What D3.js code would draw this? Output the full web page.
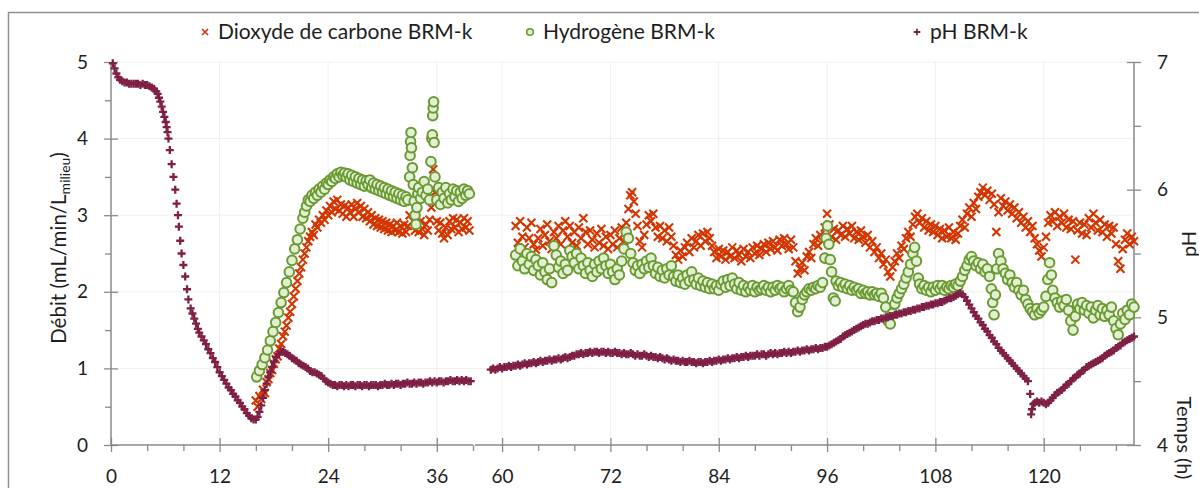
<!DOCTYPE html>
<html>
<head>
<meta charset="utf-8">
<script src="https://cdn.jsdelivr.net/npm/d3@7"></script>
<style>
  html, body { margin: 0; padding: 0; background: #fff; }
  svg { display: block; font-family: Lato, "Open Sans", sans-serif; }
</style>
</head>
<body>
<svg id="chart" width="1199" height="488"></svg>
<script>
// ---------- DATA (hours, value) ----------
const seriesNames = ["Dioxyde de carbone BRM-k", "Hydrogène BRM-k", "pH BRM-k"];
const xMajorTicks = [0, 12, 24, 36, 60, 72, 84, 96, 108, 120];
const xMinorTicks = [4, 8, 16, 20, 28, 32, 40, 64, 68, 76, 80, 88, 92, 100, 104, 112, 116, 124, 128];
const yLeftTicks = [0, 1, 2, 3, 4, 5];
const yLeftMinor = [0.5, 1.5, 2.5, 3.5, 4.5];
const yRightTicks = [4, 5, 6, 7];
const yRightMinor = [4.5, 5.5, 6.5];
const xSegments = [[0, 40], [57, 130]];

// CO2 flow (mL/min/L)
const co2 = [
[16.0,0.58],[16.2,0.50],[16.4,0.64],[16.6,0.60],[16.8,0.72],[17.0,0.68],[17.2,0.82],[17.4,0.86],[17.6,0.94],[17.8,0.98],
[18.0,1.06],[18.2,1.12],[18.4,1.16],[18.6,1.26],[18.8,1.32],[19.0,1.42],[19.2,1.48],[19.4,1.56],[19.6,1.66],[19.8,1.74],
[20.0,1.84],[20.2,1.94],[20.4,2.04],[20.6,2.14],[20.8,2.24],[21.0,2.32],[21.2,2.42],[21.4,2.50],[21.6,2.58],[21.8,2.66],
[22.0,2.72],[22.2,2.78],[22.4,2.74],[22.6,2.88],[22.8,2.84],[23.0,2.94],[23.2,2.90],[23.4,3.00],[23.6,2.94],[23.8,3.06],
[24.0,3.00],[24.2,3.12],[24.4,3.04],[24.6,3.18],[24.8,3.08],[25.0,3.20],[25.2,3.06],[25.4,3.14],[25.6,3.02],[25.8,3.12],
[26.0,2.98],[26.2,3.10],[26.4,3.04],[26.6,3.14],[26.8,2.98],[27.0,3.08],[27.2,3.16],[27.4,3.04],[27.6,3.12],[27.8,2.98],
[28.0,3.08],[28.2,2.96],[28.4,3.04],[28.6,2.92],[28.8,3.00],[29.0,2.88],[29.2,2.96],[29.4,2.86],[29.6,2.94],[29.8,2.84],
[30.0,2.92],[30.2,2.82],[30.4,2.90],[30.6,2.80],[30.8,2.88],[31.0,2.78],[31.2,2.86],[31.4,2.80],[31.6,2.90],[31.8,2.78],
[32.0,2.86],[32.2,2.76],[32.4,2.88],[32.6,2.78],[32.8,2.86],[33.0,3.00],[33.2,3.18],[33.4,2.92],[33.6,2.80],[33.8,2.90],
[34.0,2.78],[34.2,2.92],[34.4,2.82],[34.6,2.74],[34.8,2.88],[35.0,2.80],[35.2,2.94],[35.4,3.10],[35.6,3.60],[35.8,3.30],
[36.0,2.92],[36.2,2.80],[36.4,2.90],[36.6,2.76],[36.8,2.70],[37.0,2.84],[37.2,2.74],[37.4,2.92],[37.6,2.82],[37.8,2.96],
[38.0,2.84],[38.2,2.94],[38.4,2.78],[38.6,2.90],[38.8,2.82],[39.0,2.96],[39.2,2.84],[39.4,2.92],[39.6,2.80],
[61.50,2.86],[61.75,2.64],[62.00,2.92],[62.25,2.72],[62.50,2.58],[62.75,2.84],[63.00,2.70],[63.25,2.90],[63.50,2.62],[63.75,2.55],
[64.00,2.70],[64.25,2.82],[64.50,2.60],[64.75,2.74],[65.00,2.88],[65.25,2.66],[65.50,2.56],[65.75,2.78],[66.00,2.70],[66.25,2.86],
[66.50,2.62],[66.75,2.80],[67.00,2.92],[67.25,2.72],[67.50,2.86],[67.75,2.64],[68.00,2.78],[68.25,2.60],[68.50,2.84],[68.75,2.70],
[69.00,2.96],[69.25,2.78],[69.50,2.62],[69.75,2.80],[70.00,2.68],[70.25,2.58],[70.50,2.76],[70.75,2.64],[71.00,2.82],[71.25,2.60],
[71.50,2.72],[71.75,2.56],[72.00,2.74],[72.25,2.62],[72.50,2.80],[72.75,2.58],[73.00,2.70],[73.25,2.84],[73.50,2.66],[73.75,2.90],
[74.00,3.08],[74.20,3.26],[74.40,3.30],[74.60,3.18],[74.80,3.02],[75.00,2.86],[75.25,2.66],[75.50,2.58],[75.75,2.74],[76.00,2.88],
[76.25,3.00],[76.50,2.92],[76.75,3.02],[77.00,2.84],[77.25,2.72],[77.50,2.86],[77.75,2.70],[78.00,2.80],[78.25,2.66],[78.50,2.84],
[78.75,2.72],[79.00,2.60],[79.25,2.48],[79.50,2.42],[79.75,2.54],[80.00,2.46],[80.25,2.58],[80.50,2.64],[80.75,2.52],[81.00,2.70],
[81.25,2.58],[81.50,2.66],[81.75,2.74],[82.00,2.60],[82.25,2.76],[82.50,2.66],[82.75,2.78],[83.00,2.70],[83.25,2.60],[83.50,2.52],
[83.75,2.44],[84.00,2.56],[84.25,2.46],[84.50,2.54],[84.75,2.42],[85.00,2.52],[85.25,2.46],[85.50,2.58],[85.75,2.44],[86.00,2.54],
[86.25,2.48],[86.50,2.40],[86.75,2.56],[87.00,2.46],[87.25,2.52],[87.50,2.44],[87.75,2.58],[88.00,2.50],[88.25,2.60],[88.50,2.48],
[88.75,2.56],[89.00,2.62],[89.25,2.52],[89.50,2.64],[89.75,2.56],[90.00,2.66],[90.25,2.58],[90.50,2.54],[90.75,2.68],[91.00,2.60],
[91.25,2.70],[91.50,2.62],[91.75,2.56],[92.00,2.68],[92.25,2.58],[92.50,2.40],[92.75,2.24],[93.00,2.30],[93.25,2.38],[93.50,2.28],
[93.75,2.46],[94.00,2.52],[94.25,2.44],[94.50,2.62],[94.75,2.70],[95.00,2.60],[95.25,2.74],[95.50,2.66],[95.75,2.84],[96.00,3.02],
[96.25,2.88],[96.50,2.72],[96.75,2.82],[97.00,2.68],[97.25,2.80],[97.50,2.74],[97.75,2.86],[98.00,2.72],[98.25,2.82],[98.50,2.76],
[98.75,2.86],[99.00,2.70],[99.25,2.78],[99.50,2.68],[99.75,2.80],[100.00,2.72],[100.25,2.64],[100.50,2.74],[100.75,2.58],[101.00,2.66],
[101.25,2.52],[101.50,2.58],[101.75,2.44],[102.00,2.50],[102.25,2.36],[102.50,2.42],[102.75,2.26],[103.00,2.20],[103.25,2.32],[103.50,2.40],
[103.75,2.50],[104.00,2.44],[104.25,2.60],[104.50,2.56],[104.75,2.70],[105.00,2.78],[105.25,2.72],[105.50,2.88],[105.75,2.98],[106.00,3.02],
[106.25,2.90],[106.50,2.96],[106.75,2.84],[107.00,2.92],[107.25,2.80],[107.50,2.88],[107.75,2.78],[108.00,2.86],[108.25,2.74],[108.50,2.82],
[108.75,2.70],[109.00,2.80],[109.25,2.72],[109.50,2.84],[109.75,2.70],[110.00,2.78],[110.25,2.68],[110.50,2.76],[110.75,2.86],[111.00,2.94],
[111.25,2.84],[111.50,3.02],[111.75,3.10],[112.00,2.98],[112.25,3.16],[112.50,3.08],[112.75,3.24],[113.00,3.30],[113.25,3.36],[113.50,3.26],
[113.75,3.32],[114.00,3.20],[114.25,3.28],[114.50,3.14],[114.75,2.78],[115.00,3.04],[115.25,3.22],[115.50,3.12],[115.75,3.18],[116.00,3.06],
[116.25,3.14],[116.50,3.02],[116.75,3.10],[117.00,2.96],[117.25,3.04],[117.50,2.90],[117.75,2.98],[118.00,2.84],[118.25,2.92],[118.50,2.78],
[118.75,2.86],[119.00,2.70],[119.25,2.62],[119.50,2.54],[119.75,2.46],[120.00,2.58],[120.25,2.72],[120.50,2.90],[120.75,3.00],[121.00,2.92],
[121.25,3.04],[121.50,2.86],[121.75,2.98],[122.00,2.90],[122.25,3.02],[122.50,2.84],[122.75,2.94],[123.00,2.82],[123.25,2.92],[123.50,2.42],
[123.75,2.80],[124.00,2.90],[124.25,2.76],[124.50,2.88],[124.75,2.74],[125.00,2.96],[125.25,2.84],[125.50,3.02],[125.75,2.90],[126.00,2.80],
[126.25,2.94],[126.50,2.78],[126.75,2.88],[127.00,2.72],[127.25,2.86],[127.50,2.76],[127.75,2.84],[128.00,2.62],[128.25,2.40],[128.50,2.30],
[128.75,2.56],[129.00,2.68],[129.25,2.76],[129.50,2.62],[129.75,2.72],[130.00,2.66]
];

// H2 flow (mL/min/L)
const h2 = [
[16.1,0.89],[16.4,0.97],[16.7,1.05],[17.0,1.14],[17.3,1.24],[17.6,1.36],[17.9,1.48],[18.2,1.60],[18.5,1.73],[18.8,1.86],
[19.1,1.99],[19.4,2.12],[19.7,2.26],[20.0,2.41],[20.3,2.56],[20.6,2.68],[20.9,2.82],[21.2,2.96],[21.4,3.04],
[21.6,3.12],[21.8,3.20],[22.0,3.18],[22.2,3.26],[22.4,3.22],[22.6,3.30],[22.8,3.26],[23.0,3.34],[23.2,3.30],[23.4,3.38],
[23.6,3.34],[23.8,3.42],[24.0,3.40],[24.2,3.46],[24.4,3.44],[24.6,3.50],[24.8,3.48],[25.0,3.54],[25.2,3.50],[25.4,3.56],
[25.6,3.52],[25.8,3.55],[26.0,3.50],[26.2,3.54],[26.4,3.46],[26.6,3.52],[26.8,3.44],[27.0,3.50],[27.2,3.42],[27.4,3.48],
[27.6,3.40],[27.8,3.46],[28.0,3.38],[28.2,3.45],[28.4,3.40],[28.6,3.46],[28.8,3.36],[29.0,3.42],[29.2,3.34],[29.4,3.40],
[29.6,3.32],[29.8,3.38],[30.0,3.30],[30.2,3.36],[30.4,3.28],[30.6,3.34],[30.8,3.26],[31.0,3.32],[31.2,3.24],[31.4,3.30],
[31.6,3.22],[31.8,3.28],[32.0,3.20],[32.2,3.26],[32.4,3.18],[32.6,3.24],[32.8,3.20],[33.0,3.50],[33.05,3.78],[33.1,3.96],
[33.15,4.08],[33.2,3.88],[33.3,3.62],[33.4,3.40],[33.5,3.18],[33.6,3.00],[33.7,2.88],[33.8,3.10],[33.9,3.28],[34.0,3.36],
[34.2,3.22],[34.4,3.30],[34.6,3.44],[34.8,3.26],[35.0,3.34],[35.2,3.20],[35.35,3.70],[35.45,4.00],[35.5,4.05],[35.55,4.30],
[35.6,4.40],[35.65,4.48],[35.7,3.95],[35.8,3.50],[36.0,3.20],[36.2,3.36],[36.4,3.14],[36.6,3.30],[36.8,3.22],[37.0,3.36],
[37.2,3.16],[37.4,3.28],[37.6,3.20],[37.8,3.34],[38.0,3.24],[38.2,3.32],[38.4,3.18],[38.6,3.30],[38.8,3.22],[39.0,3.34],
[39.2,3.26],[39.4,3.32],[39.6,3.28],
[61.50,2.48],[61.75,2.34],[62.00,2.56],[62.25,2.40],[62.50,2.30],[62.75,2.50],[63.00,2.36],[63.25,2.46],[63.50,2.28],[63.75,2.42],
[64.00,2.34],[64.25,2.22],[64.50,2.38],[64.75,2.26],[65.00,2.16],[65.25,2.30],[65.50,2.12],[65.75,2.60],[66.00,2.48],[66.25,2.32],
[66.50,2.40],[66.75,2.24],[67.00,2.36],[67.25,2.28],[67.50,2.54],[67.75,2.46],[68.00,2.38],[68.25,2.50],[68.50,2.30],[68.75,2.44],
[69.00,2.34],[69.25,2.24],[69.50,2.38],[69.75,2.28],[70.00,2.20],[70.25,2.36],[70.50,2.26],[70.75,2.40],[71.00,2.30],[71.25,2.44],
[71.50,2.34],[71.75,2.24],[72.00,2.36],[72.25,2.26],[72.50,2.16],[72.75,2.30],[73.00,2.22],[73.25,2.40],[73.50,2.56],[73.75,2.78],
[74.00,2.70],[74.25,2.50],[74.50,2.38],[74.75,2.28],[75.00,2.34],[75.25,2.24],[75.50,2.36],[75.75,2.30],[76.00,2.40],[76.25,2.32],
[76.50,2.44],[76.75,2.34],[77.00,2.24],[77.25,2.32],[77.50,2.20],[77.75,2.28],[78.00,2.18],[78.25,2.30],[78.50,2.22],[78.75,2.34],
[79.00,2.20],[79.25,2.14],[79.50,2.22],[79.75,2.12],[80.00,2.18],[80.25,2.10],[80.50,2.22],[80.75,2.14],[81.00,2.26],[81.25,2.16],
[81.50,2.10],[81.75,2.18],[82.00,2.08],[82.25,2.14],[82.50,2.06],[82.75,2.12],[83.00,2.04],[83.25,2.10],[83.50,2.04],[83.75,2.08],
[84.00,2.02],[84.25,2.10],[84.50,2.14],[84.75,2.06],[85.00,2.16],[85.25,2.08],[85.50,2.18],[85.75,2.10],[86.00,2.04],[86.25,2.12],
[86.50,2.02],[86.75,2.08],[87.00,2.00],[87.25,2.06],[87.50,2.02],[87.75,2.08],[88.00,2.00],[88.25,2.06],[88.50,2.02],[88.75,2.04],
[89.00,2.08],[89.25,2.02],[89.50,2.06],[89.75,2.00],[90.00,2.06],[90.25,2.02],[90.50,2.08],[90.75,2.04],[91.00,2.06],[91.25,2.00],
[91.50,2.04],[91.75,2.08],[92.00,2.02],[92.25,2.00],[92.50,1.86],[92.75,1.74],[93.00,1.80],[93.25,1.90],[93.50,1.96],[93.75,2.00],
[94.00,2.04],[94.25,2.02],[94.50,2.06],[94.75,2.04],[95.00,2.08],[95.25,2.06],[95.50,2.12],[95.75,2.44],[95.90,2.70],[96.05,2.86],
[96.20,2.62],[96.35,2.42],[96.50,2.26],[96.70,1.92],[96.90,1.88],[97.00,2.14],[97.25,2.08],[97.50,2.12],[97.75,2.06],[98.00,2.10],
[98.25,2.04],[98.50,2.08],[98.75,2.02],[99.00,2.06],[99.25,2.02],[99.50,2.04],[99.75,1.98],[100.00,2.02],[100.25,1.98],[100.50,2.00],
[100.75,1.96],[101.00,2.00],[101.25,1.96],[101.50,1.98],[101.75,1.94],[102.00,1.98],[102.25,1.92],[102.50,1.80],[102.75,1.62],[103.00,1.58],
[103.25,1.72],[103.50,1.84],[103.75,1.92],[104.00,1.98],[104.25,2.04],[104.50,2.10],[104.75,2.18],[105.00,2.26],[105.25,2.36],[105.50,2.50],
[105.70,2.58],[105.90,2.40],[106.10,2.18],[106.25,2.10],[106.50,2.04],[106.75,2.08],[107.00,2.02],[107.25,2.06],[107.50,2.00],[107.75,2.06],
[108.00,2.02],[108.25,2.08],[108.50,2.04],[108.75,2.08],[109.00,2.02],[109.25,2.06],[109.50,2.04],[109.75,2.08],[110.00,2.06],[110.25,2.10],
[110.50,2.08],[110.75,2.14],[111.00,2.20],[111.25,2.28],[111.50,2.34],[111.75,2.42],[112.00,2.46],[112.25,2.40],[112.50,2.34],[112.75,2.38],
[113.00,2.30],[113.25,2.36],[113.50,2.26],[113.75,2.30],[114.00,2.20],[114.20,2.04],[114.35,1.86],[114.50,1.70],[114.65,1.96],[114.80,2.30],
[115.00,2.50],[115.25,2.40],[115.50,2.30],[115.75,2.24],[116.00,2.16],[116.25,2.22],[116.50,2.12],[116.75,2.06],[117.00,2.12],[117.25,2.02],
[117.50,1.96],[117.75,2.02],[118.00,1.90],[118.25,1.84],[118.50,1.78],[118.75,1.74],[119.00,1.70],[119.25,1.78],[119.50,1.72],[119.75,1.76],
[120.00,1.80],[120.25,1.94],[120.45,2.16],[120.65,2.38],[120.85,2.22],[121.00,2.02],[121.25,1.92],[121.50,1.86],[121.75,1.80],[122.00,1.88],
[122.25,1.82],[122.50,1.90],[122.75,1.76],[123.00,1.62],[123.25,1.50],[123.50,1.68],[123.75,1.84],[124.00,1.78],[124.25,1.86],[124.50,1.76],
[124.75,1.82],[125.00,1.72],[125.25,1.80],[125.50,1.66],[125.75,1.76],[126.00,1.82],[126.25,1.70],[126.50,1.78],[126.75,1.68],[127.00,1.76],
[127.25,1.70],[127.50,1.80],[127.75,1.62],[128.00,1.52],[128.25,1.44],[128.50,1.58],[128.75,1.72],[129.00,1.64],[129.25,1.76],[129.50,1.70],
[129.75,1.84],[130.00,1.80]
];

// pH (right axis)
const ph = [
[0.2,6.99],[0.4,6.95],[0.6,6.91],[0.8,6.88],[1.0,6.86],[1.25,6.85],[1.5,6.84],[1.75,6.84],[2.0,6.83],[2.25,6.83],
[2.5,6.83],[2.75,6.83],[3.0,6.83],[3.25,6.82],[3.5,6.83],[3.75,6.82],[4.0,6.82],[4.25,6.81],[4.5,6.80],[4.75,6.79],
[5.0,6.77],[5.15,6.75],[5.3,6.72],[5.45,6.69],[5.6,6.65],[5.75,6.61],[5.9,6.57],[6.05,6.53],[6.15,6.49],[6.25,6.45],
[6.35,6.40],[6.5,6.31],[6.7,6.20],[6.9,6.10],[7.1,6.00],[7.25,5.89],[7.4,5.80],[7.5,5.71],[7.65,5.60],[7.8,5.50],
[8.0,5.41],[8.2,5.32],[8.4,5.22],[8.55,5.14],[8.8,5.07],[9.0,5.03],[9.2,4.99],[9.4,4.95],[9.6,4.91],[9.75,4.88],
[10.0,4.85],[10.25,4.82],[10.5,4.79],[10.75,4.75],[11.0,4.72],[11.25,4.68],[11.5,4.65],[11.75,4.61],[12.0,4.57],[12.25,4.54],
[12.5,4.51],[12.75,4.48],[13.0,4.45],[13.25,4.43],[13.5,4.40],[13.75,4.38],[14.0,4.35],[14.25,4.33],[14.5,4.30],[14.75,4.28],
[15.0,4.25],[15.25,4.23],[15.5,4.21],[15.75,4.20],[16.0,4.20],[16.2,4.22],[16.4,4.26],[16.6,4.31],[16.8,4.37],[17.0,4.43],
[17.2,4.48],[17.4,4.53],[17.6,4.57],[17.8,4.61],[18.0,4.65],[18.25,4.69],[18.5,4.71],[18.75,4.73],[19.0,4.73],[19.25,4.72],
[19.5,4.71],[19.75,4.70],[20.0,4.68],[20.25,4.67],[20.5,4.66],[20.75,4.64],[21.0,4.63],[21.25,4.62],[21.5,4.61],[21.75,4.60],
[22.0,4.58],[22.25,4.57],[22.5,4.57],[22.75,4.56],[23.0,4.55],[23.25,4.54],[23.5,4.52],[23.75,4.50],[24.0,4.49],[24.25,4.48],
[24.5,4.47],[24.75,4.47],[25.0,4.46],[25.25,4.47],[25.5,4.47],[25.75,4.46],[26.0,4.47],[26.25,4.46],[26.5,4.47],[26.75,4.47],
[27.0,4.46],[27.25,4.47],[27.5,4.47],[27.75,4.46],[28.0,4.47],[28.25,4.47],[28.5,4.46],[28.75,4.47],[29.0,4.47],[29.25,4.47],
[29.5,4.46],[29.75,4.47],[30.0,4.47],[30.25,4.48],[30.5,4.47],[30.75,4.47],[31.0,4.48],[31.25,4.47],[31.5,4.48],[31.75,4.48],
[32.0,4.47],[32.25,4.48],[32.5,4.48],[32.75,4.49],[33.0,4.48],[33.25,4.48],[33.5,4.49],[33.75,4.48],[34.0,4.49],[34.25,4.49],
[34.5,4.48],[34.75,4.49],[35.0,4.49],[35.25,4.50],[35.5,4.49],[35.75,4.50],[36.0,4.49],[36.25,4.50],[36.5,4.50],[36.75,4.49],
[37.0,4.50],[37.25,4.50],[37.5,4.51],[37.75,4.50],[38.0,4.50],[38.25,4.51],[38.5,4.50],[38.75,4.51],[39.0,4.50],[39.25,4.51],
[39.5,4.50],[39.75,4.50],
[58.75,4.59],[59.00,4.60],[59.25,4.59],[59.50,4.60],[59.75,4.61],[60.00,4.60],[60.25,4.61],[60.50,4.61],[60.75,4.62],[61.00,4.61],
[61.25,4.62],[61.50,4.62],[61.75,4.63],[62.00,4.62],[62.25,4.63],[62.50,4.64],[62.75,4.63],[63.00,4.64],[63.25,4.64],[63.50,4.65],
[63.75,4.64],[64.00,4.65],[64.25,4.66],[64.50,4.65],[64.75,4.66],[65.00,4.66],[65.25,4.67],[65.50,4.66],[65.75,4.67],[66.00,4.67],
[66.25,4.68],[66.50,4.67],[66.75,4.68],[67.00,4.69],[67.25,4.68],[67.50,4.69],[67.75,4.70],[68.00,4.70],[68.25,4.71],[68.50,4.71],
[68.75,4.72],[69.00,4.71],[69.25,4.72],[69.50,4.72],[69.75,4.73],[70.00,4.72],[70.25,4.73],[70.50,4.73],[70.75,4.72],[71.00,4.73],
[71.25,4.73],[71.50,4.72],[71.75,4.73],[72.00,4.72],[72.25,4.72],[72.50,4.73],[72.75,4.72],[73.00,4.72],[73.25,4.71],[73.50,4.72],
[73.75,4.71],[74.00,4.71],[74.25,4.72],[74.50,4.71],[74.75,4.70],[75.00,4.71],[75.25,4.70],[75.50,4.70],[75.75,4.71],[76.00,4.70],
[76.25,4.69],[76.50,4.70],[76.75,4.69],[77.00,4.69],[77.25,4.68],[77.50,4.69],[77.75,4.68],[78.00,4.67],[78.25,4.68],[78.50,4.67],
[78.75,4.66],[79.00,4.67],[79.25,4.66],[79.50,4.66],[79.75,4.65],[80.00,4.66],[80.25,4.65],[80.50,4.65],[80.75,4.66],[81.00,4.65],
[81.25,4.65],[81.50,4.64],[81.75,4.65],[82.00,4.65],[82.25,4.64],[82.50,4.65],[82.75,4.65],[83.00,4.66],[83.25,4.65],[83.50,4.66],
[83.75,4.66],[84.00,4.67],[84.25,4.66],[84.50,4.67],[84.75,4.67],[85.00,4.68],[85.25,4.67],[85.50,4.68],[85.75,4.68],[86.00,4.69],
[86.25,4.68],[86.50,4.69],[86.75,4.69],[87.00,4.70],[87.25,4.69],[87.50,4.70],[87.75,4.70],[88.00,4.70],[88.25,4.71],[88.50,4.70],
[88.75,4.71],[89.00,4.71],[89.25,4.70],[89.50,4.71],[89.75,4.72],[90.00,4.71],[90.25,4.72],[90.50,4.71],[90.75,4.72],[91.00,4.72],
[91.25,4.73],[91.50,4.72],[91.75,4.73],[92.00,4.72],[92.25,4.73],[92.50,4.73],[92.75,4.74],[93.00,4.73],[93.25,4.74],[93.50,4.74],
[93.75,4.75],[94.00,4.74],[94.25,4.75],[94.50,4.75],[94.75,4.76],[95.00,4.75],[95.25,4.76],[95.50,4.76],[95.75,4.77],[96.00,4.77],
[96.25,4.78],[96.50,4.79],[96.75,4.80],[97.00,4.81],[97.25,4.82],[97.50,4.83],[97.75,4.85],[98.00,4.86],[98.25,4.87],[98.50,4.88],
[98.75,4.89],[99.00,4.90],[99.25,4.91],[99.50,4.92],[99.75,4.93],[100.00,4.94],[100.25,4.95],[100.50,4.95],[100.75,4.96],[101.00,4.97],
[101.25,4.97],[101.50,4.98],[101.75,4.98],[102.00,4.99],[102.25,4.99],[102.50,5.00],[102.75,5.00],[103.00,5.01],[103.25,5.01],[103.50,5.02],
[103.75,5.02],[104.00,5.03],[104.25,5.03],[104.50,5.04],[104.75,5.04],[105.00,5.05],[105.25,5.05],[105.50,5.06],[105.75,5.06],[106.00,5.07],
[106.25,5.07],[106.50,5.08],[106.75,5.08],[107.00,5.09],[107.25,5.09],[107.50,5.10],[107.75,5.10],[108.00,5.11],[108.25,5.11],[108.50,5.12],
[108.75,5.12],[109.00,5.13],[109.25,5.14],[109.50,5.15],[109.75,5.15],[110.00,5.16],[110.25,5.17],[110.50,5.18],[110.75,5.19],[111.00,5.18],
[111.25,5.16],[111.50,5.13],[111.75,5.10],[112.00,5.07],[112.25,5.04],[112.50,5.01],[112.75,4.99],[113.00,4.96],[113.25,4.94],[113.50,4.91],
[113.75,4.89],[114.00,4.86],[114.25,4.84],[114.50,4.81],[114.75,4.79],[115.00,4.76],[115.25,4.74],[115.50,4.72],[115.75,4.70],[116.00,4.68],
[116.25,4.66],[116.50,4.64],[116.75,4.62],[117.00,4.60],[117.25,4.58],[117.50,4.56],[117.75,4.54],[118.00,4.52],[118.25,4.50],[118.50,4.40],
[118.60,4.24],[118.70,4.28],[118.85,4.32],[119.00,4.33],[119.25,4.34],[119.50,4.33],[119.75,4.34],[120.00,4.33],[120.25,4.32],[120.50,4.33],
[120.75,4.35],[121.00,4.37],[121.25,4.39],[121.50,4.41],[121.75,4.42],[122.00,4.43],[122.25,4.45],[122.50,4.47],[122.75,4.48],[123.00,4.50],
[123.25,4.52],[123.50,4.53],[123.75,4.55],[124.00,4.56],[124.25,4.58],[124.50,4.59],[124.75,4.61],[125.00,4.62],[125.25,4.63],[125.50,4.64],
[125.75,4.65],[126.00,4.66],[126.25,4.67],[126.50,4.68],[126.75,4.70],[127.00,4.71],[127.25,4.72],[127.50,4.73],[127.75,4.74],[128.00,4.76],
[128.25,4.77],[128.50,4.78],[128.75,4.80],[129.00,4.81],[129.25,4.82],[129.50,4.83],[129.75,4.84],[130.00,4.85]
];

// ---------- STYLE ----------
const C_CO2 = "#d23600";
const C_H2 = "#6a9a32";
const C_H2_FILL = "#e3efd2";
const C_PH = "#7f1f46";
const AXIS = "#8a8a8a";
const GRID = "#efefef";
const TXT = "#1e1e1e";
const FONT = "Lato, 'Open Sans', sans-serif";

const svg = d3.select("#chart");

// chart border
svg.append("rect").attr("x", 8.5).attr("y", 12.5).attr("width", 1400).attr("height", 600)
  .attr("fill", "#fff").attr("stroke", "#8f8f8f").attr("stroke-width", 1.5);

// scales (broken time axis)
const x = d3.scaleLinear().domain([0, 40, 57, 130]).range([111, 473, 475, 1134]);
const yL = d3.scaleLinear().domain([0, 5]).range([445, 62]);
const yR = d3.scaleLinear().domain([4, 7]).range([445, 62]);

// gridlines
const grid = svg.append("g");
grid.selectAll("line.h").data(yLeftTicks.filter(d => d > 0)).join("line")
  .attr("x1", 111).attr("x2", 1134).attr("y1", d => yL(d)).attr("y2", d => yL(d))
  .attr("stroke", GRID).attr("stroke-width", 1);
grid.selectAll("line.v").data(xMajorTicks.filter(d => d > 0)).join("line")
  .attr("x1", d => x(d)).attr("x2", d => x(d)).attr("y1", 62).attr("y2", 445)
  .attr("stroke", GRID).attr("stroke-width", 1);

// ---------- AXES ----------
function styleAxis(g) {
  g.select(".domain").remove();
  g.selectAll("line").attr("stroke", AXIS).attr("stroke-width", 1.3);
  g.selectAll("text").attr("fill", TXT).style("font-size", "19px").style("font-family", FONT);
}

xSegments.forEach(s => {
  svg.append("line").attr("x1", x(s[0])).attr("x2", Math.min(x(s[1]), 1136)).attr("y1", 445).attr("y2", 445)
    .attr("stroke", AXIS).attr("stroke-width", 1.5);
});
svg.append("g").attr("transform", "translate(0,445)")
  .call(d3.axisBottom(x).tickValues(xMajorTicks).tickSize(0).tickPadding(25).tickFormat(d3.format("d")))
  .call(styleAxis);
svg.append("g").attr("transform", "translate(0,438)")
  .call(d3.axisBottom(x).tickValues(xMajorTicks).tickSize(14).tickFormat(""))
  .call(styleAxis);
svg.append("g").attr("transform", "translate(0,445)")
  .call(d3.axisBottom(x).tickValues(xMinorTicks).tickSize(6).tickFormat(""))
  .call(styleAxis);

// left axis
svg.append("line").attr("x1", 111).attr("x2", 111).attr("y1", 62).attr("y2", 445).attr("stroke", AXIS).attr("stroke-width", 1.5);
svg.append("g").attr("transform", "translate(111,0)")
  .call(d3.axisLeft(yL).tickValues(yLeftTicks).tickSize(0).tickPadding(23).tickFormat(d3.format("d")))
  .call(styleAxis);
svg.append("g").attr("transform", "translate(118,0)")
  .call(d3.axisLeft(yL).tickValues(yLeftTicks).tickSize(14).tickFormat(""))
  .call(styleAxis);
svg.append("g").attr("transform", "translate(111,0)")
  .call(d3.axisLeft(yL).tickValues(yLeftMinor).tickSize(6).tickFormat(""))
  .call(styleAxis);

// right axis
svg.append("line").attr("x1", 1134).attr("x2", 1134).attr("y1", 62).attr("y2", 445).attr("stroke", AXIS).attr("stroke-width", 1.5);
svg.append("g").attr("transform", "translate(1134,0)")
  .call(d3.axisRight(yR).tickValues(yRightTicks).tickSize(0).tickPadding(23).tickFormat(d3.format("d")))
  .call(styleAxis);
svg.append("g").attr("transform", "translate(1127,0)")
  .call(d3.axisRight(yR).tickValues(yRightTicks).tickSize(14).tickFormat(""))
  .call(styleAxis);
svg.append("g").attr("transform", "translate(1134,0)")
  .call(d3.axisRight(yR).tickValues(yRightMinor).tickSize(7).tickFormat(""))
  .call(styleAxis);

// axis titles
const yTitle = svg.append("text").attr("transform", "translate(66,248) rotate(-90)")
  .attr("text-anchor", "middle").attr("fill", TXT).style("font-size", "20.5px").style("font-family", FONT);
yTitle.append("tspan").text("Débit (mL/min/L");
yTitle.append("tspan").text("milieu").attr("dy", 4).style("font-size", "14px");
yTitle.append("tspan").text(")").attr("dy", -4);

svg.append("text").attr("transform", "translate(1196,244) rotate(-90)")
  .attr("text-anchor", "middle").attr("fill", TXT).style("font-size", "20px").style("font-family", FONT).text("pH");
svg.append("text").attr("transform", "translate(1177,438) rotate(90)")
  .attr("text-anchor", "middle").attr("fill", TXT).style("font-size", "20px").style("font-family", FONT).text("Temps (h)");

// ---------- MARKS ----------
const crossPath = s => `M${-s},${-s}L${s},${s}M${-s},${s}L${s},${-s}`;
const plusPath = s => `M${-s},0L${s},0M0,${-s}L0,${s}`;

svg.append("g").selectAll("path").data(co2).join("path")
  .attr("transform", d => `translate(${x(d[0])},${yL(d[1])})`)
  .attr("d", crossPath(4)).attr("stroke", C_CO2).attr("stroke-width", 2.1).attr("fill", "none");

svg.append("g").selectAll("circle").data(h2).join("circle")
  .attr("cx", d => x(d[0])).attr("cy", d => yL(d[1])).attr("r", 4.8)
  .attr("fill", C_H2_FILL).attr("stroke", C_H2).attr("stroke-width", 2);

svg.append("g").selectAll("path").data(ph).join("path")
  .attr("transform", d => `translate(${x(d[0])},${yR(d[1])})`)
  .attr("d", plusPath(4)).attr("stroke", C_PH).attr("stroke-width", 2.3).attr("fill", "none");

// ---------- LEGEND ----------
const legend = svg.append("g").style("font-size", "21px").style("font-family", FONT);
const legendItems = [
  { name: seriesNames[0], mx: 205, tx: 218, kind: "x" },
  { name: seriesNames[1], mx: 530, tx: 543, kind: "o" },
  { name: seriesNames[2], mx: 917, tx: 930, kind: "+" }
];
legendItems.forEach(it => {
  if (it.kind === "x") legend.append("path").attr("transform", `translate(${it.mx},32)`).attr("d", crossPath(3)).attr("stroke", C_CO2).attr("stroke-width", 1.6);
  if (it.kind === "o") legend.append("circle").attr("cx", it.mx).attr("cy", 32).attr("r", 3.3).attr("fill", C_H2_FILL).attr("stroke", C_H2).attr("stroke-width", 1.6);
  if (it.kind === "+") legend.append("path").attr("transform", `translate(${it.mx},32)`).attr("d", plusPath(3.3)).attr("stroke", C_PH).attr("stroke-width", 1.8);
  legend.append("text").attr("x", it.tx).attr("y", 32).attr("dy", "0.35em").attr("fill", TXT).text(it.name);
});
</script>
</body>
</html>
